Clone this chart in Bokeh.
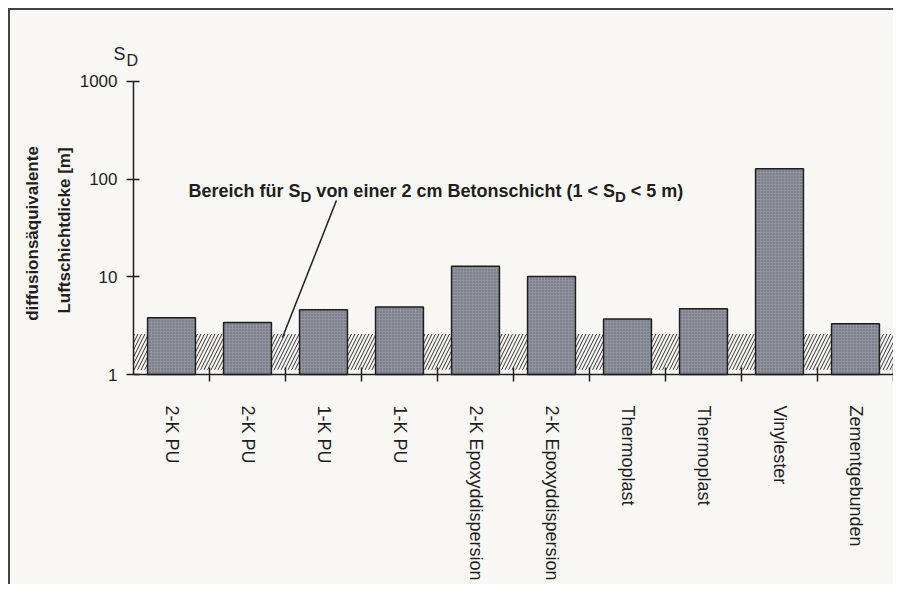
import numpy as np
from bokeh.plotting import figure
from bokeh.models import Range1d, FixedTicker, Label, PrintfTickFormatter
from bokeh.embed import file_html
from bokeh.resources import INLINE

# ---- data ----
categories = ["2-K PU", "2-K PU", "1-K PU", "1-K PU",
              "2-K Epoxyddispersion", "2-K Epoxyddispersion",
              "Thermoplast", "Thermoplast", "Vinylester", "Zementgebunden"]
sd_values = [3.8, 3.4, 4.6, 4.9, 12.8, 10.1, 3.7, 4.7, 128, 3.3]
band_low = 1.12
band_high = 2.6
y_ticks = [1, 10, 100, 1000]

n = len(categories)
x_centers = np.arange(n) + 0.5
x_bounds = list(range(1, n + 1))

BG = "#f8f7f4"
INK = "#1e1e1e"
FONT = "Liberation Sans"
W, H = 885, 576

# layout geometry (pixels inside the canvas); the frame covers the whole canvas
AXIS_X = 123          # where x = 0 (the y axis) sits
AXIS_Y = 364          # where y = 1 (the x axis) sits, from the top
PX_PER_CAT = 76.0
PX_PER_DECADE = 97.67
x_start = -AXIS_X / PX_PER_CAT
y_end = 10 ** (AXIS_Y / PX_PER_DECADE)
y_start = 10 ** (-(H - AXIS_Y) / PX_PER_DECADE)

p = figure(width=W, height=H,
           x_range=Range1d(x_start, n), y_range=Range1d(y_start, y_end), y_axis_type="log",
           output_backend="svg", toolbar_location=None,
           min_border_left=0, min_border_top=0, min_border_right=2, min_border_bottom=0,
           background_fill_color=BG, border_fill_color=BG, outline_line_color=None,
           styles={"border-top": "2px solid #444", "border-left": "2px solid #444",
                   "margin-left": "8px", "margin-top": "8px"})
p.grid.visible = False

# y axis, drawn at x = 0 inside the frame
ya = p.yaxis[0]
ya.fixed_location = 0
ya.bounds = (y_ticks[0], y_ticks[-1])
ya.ticker = FixedTicker(ticks=y_ticks, minor_ticks=[])
ya.formatter = PrintfTickFormatter(format="%d")
ya.axis_line_color = INK
ya.axis_line_width = 1.5
ya.major_tick_line_color = INK
ya.major_tick_line_width = 1.5
ya.major_tick_in = 6
ya.major_tick_out = 7
ya.minor_tick_line_color = None
ya.major_label_text_font = FONT
ya.major_label_text_font_size = "17px"
ya.major_label_text_color = INK
ya.major_label_standoff = 9

# x axis, drawn at y = 1 inside the frame
xa = p.xaxis[0]
xa.fixed_location = 1
xa.bounds = (0, n)
xa.ticker = FixedTicker(ticks=list(x_centers), minor_ticks=x_bounds)
xa.major_label_overrides = {float(x): c for x, c in zip(x_centers, categories)}
xa.major_label_orientation = "vertical"
xa.axis_line_color = INK
xa.axis_line_width = 1.5
xa.major_tick_line_color = None
xa.major_tick_in = 0
xa.major_tick_out = 0
xa.minor_tick_line_color = INK
xa.minor_tick_line_width = 1.5
xa.minor_tick_in = 7
xa.minor_tick_out = 7
xa.major_label_text_font = FONT
xa.major_label_text_font_size = "18px"
xa.major_label_text_color = INK
xa.major_label_standoff = 24

# hatched band
p.quad(left=0, right=n, bottom=band_low, top=band_high,
       fill_alpha=0, line_color=None,
       hatch_pattern="/", hatch_color="#333333", hatch_scale=7, hatch_weight=1)

# bars
p.vbar(x=x_centers, width=0.63, bottom=1, top=sd_values,
       fill_color="#8f939e", line_color=INK, line_width=1.5,
       hatch_pattern=".", hatch_color="#62666f", hatch_scale=3, hatch_weight=1)

# pointer line
p.segment(x0=[2.67], y0=[60.4], x1=[1.96], y1=[2.39], line_color=INK, line_width=1.5)

# annotation with subscripts
BOLD_W = {' ': 278, 'B': 722, 'e': 556, 'r': 389, 'i': 278, 'c': 556, 'h': 611, 'f': 333,
          'ü': 611, 'S': 667, 'D': 722, 'v': 556, 'o': 611, 'n': 611, '2': 556, 'm': 889,
          't': 333, 's': 556, '(': 333, '1': 556, '<': 584, '5': 556, ')': 333}


def width(t, size):
    return sum(BOLD_W.get(ch, 556) for ch in t) * size / 1000.0


pieces = [("Bereich für S", False), ("D", True),
          (" von einer 2 cm Betonschicht (1 < S", False), ("D", True), (" < 5 m)", False)]
ax0, ay0 = 0.7237, 74.8
off = 0.0
for txt, sub in pieces:
    size = 15 if sub else 18
    lead = len(txt) - len(txt.lstrip(" "))
    off += width(" " * lead, size)
    core = txt.strip(" ")
    p.add_layout(Label(x=ax0, y=ay0, x_offset=off, y_offset=-5 if sub else 0, text=core,
                       text_font=FONT, text_font_style="bold", text_font_size=f"{size}px",
                       text_color=INK, text_align="left", text_baseline="alphabetic"))
    off += width(core, size)

# screen units are measured from the frame's bottom-left corner
BASE = H - AXIS_Y

# S_D title above the axis
p.add_layout(Label(x=103, y=BASE + 321, x_units="screen", y_units="screen", text="S",
                   text_font=FONT, text_font_size="18px",
                   text_color=INK, text_align="left", text_baseline="alphabetic"))
p.add_layout(Label(x=116, y=BASE + 314, x_units="screen", y_units="screen", text="D",
                   text_font=FONT, text_font_size="16px", text_color=INK, text_align="left",
                   text_baseline="alphabetic"))

# y axis title, two lines
for lx, ly, t in [(22, 141, "diffusionsäquivalente"), (54, 144, "Luftschichtdicke [m]")]:
    p.add_layout(Label(x=lx, y=BASE + ly, x_units="screen", y_units="screen", text=t,
                       angle=np.pi / 2, text_font=FONT, text_font_style="bold",
                       text_font_size="17px", text_color=INK,
                       text_align="center", text_baseline="middle"))

open("out.html", "w").write(file_html(p, INLINE))
